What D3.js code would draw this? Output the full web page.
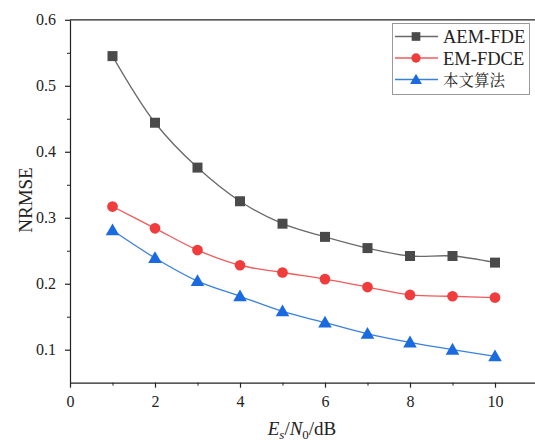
<!DOCTYPE html>
<html><head><meta charset="utf-8">
<script src="https://cdn.jsdelivr.net/npm/d3@7"></script>
<style>body{margin:0;background:#fff}svg{display:block}</style>
</head><body>
<script>
const snr = [1,2,3,4,5,6,7,8,9,10];
const aemFde = [0.545,0.444,0.376,0.325,0.291,0.271,0.254,0.242,0.242,0.232];
const emFdce = [0.317,0.284,0.251,0.228,0.217,0.207,0.195,0.183,0.181,0.179];
const ours   = [0.281,0.239,0.204,0.181,0.158,0.141,0.124,0.111,0.100,0.090];
const seriesNames = ["AEM-FDE","EM-FDCE","本文算法"];
const xTicks = [0,2,4,6,8,10];
const yTicks = [0.1,0.2,0.3,0.4,0.5,0.6];

const W=535,H=444;
const svg=d3.select("body").append("svg").attr("width",W).attr("height",H);
const x=d3.scaleLinear().domain([0,11]).range([70,537.5]);
const y=d3.scaleLinear().domain([0.05,0.6]).range([382.7,19.8]);
const serif='"Liberation Serif","Times New Roman",serif';

// frame top
svg.append("line").attr("x1",70).attr("x2",W).attr("y1",y(0.6)).attr("y2",y(0.6)).attr("stroke","#222").attr("stroke-width",1.2);

// y axis
const ya=svg.append("g").attr("transform","translate(70,0)")
  .call(d3.axisLeft(y).tickValues(yTicks).tickFormat(d3.format(".1f")).tickSize(5).tickSizeOuter(0));
ya.select(".domain").attr("stroke","#222").attr("stroke-width",1.2);
ya.selectAll(".tick line").attr("stroke","#222").attr("stroke-width",1.2);
ya.selectAll(".tick text").attr("font-family",serif).attr("font-size",16).attr("fill","#222").attr("x",-14);
svg.append("g").attr("transform","translate(70,0)")
  .call(d3.axisLeft(y).tickValues([0.15,0.25,0.35,0.45,0.55]).tickSize(3).tickFormat(""))
  .call(g=>{g.select(".domain").remove();g.selectAll("line").attr("stroke","#222");});

// x axis
const xa=svg.append("g").attr("transform",`translate(0,${y(0.05)})`)
  .call(d3.axisBottom(x).tickValues(xTicks).tickSize(5).tickSizeOuter(0));
xa.select(".domain").attr("stroke","#222").attr("stroke-width",1.2);
xa.selectAll(".tick line").attr("stroke","#222").attr("stroke-width",1.2);
xa.selectAll(".tick text").attr("font-family",serif).attr("font-size",16).attr("fill","#222").attr("dy","1em");
svg.append("g").attr("transform",`translate(0,${y(0.05)})`)
  .call(d3.axisBottom(x).tickValues([1,3,5,7,9]).tickSize(3).tickFormat(""))
  .call(g=>{g.select(".domain").remove();g.selectAll("line").attr("stroke","#222");});

// axis titles
svg.append("text").attr("transform","translate(32,200) rotate(-90)").attr("text-anchor","middle")
  .attr("font-family",serif).attr("font-size",19).attr("fill","#222").text("NRMSE");
const xt=svg.append("text").attr("x",302).attr("y",435).attr("text-anchor","middle")
  .attr("font-family",serif).attr("font-size",19).attr("fill","#222");
xt.append("tspan").attr("font-style","italic").text("E");
xt.append("tspan").attr("font-style","italic").attr("font-size",13).attr("dy",4).text("s");
xt.append("tspan").attr("dy",-4).text("/");
xt.append("tspan").attr("font-style","italic").text("N");
xt.append("tspan").attr("font-size",13).attr("dy",4).text("0");
xt.append("tspan").attr("dy",-4).text("/dB");

const series=[
  {name:seriesNames[0],vals:aemFde,line:"#6a6a6a",fill:"#4a4a4a",sym:d3.symbolSquare,size:100},
  {name:seriesNames[1],vals:emFdce,line:"#f05a5a",fill:"#f03c3c",sym:d3.symbolCircle,size:90},
  {name:seriesNames[2],vals:ours,line:"#3a80e0",fill:"#1a6be0",sym:d3.symbolTriangle,size:80}
];
const line=d3.line().x(d=>x(d[0])).y(d=>y(d[1])).curve(d3.curveCatmullRom.alpha(0.5));
series.forEach(s=>{
  const pts=snr.map((v,i)=>[v,s.vals[i]]);
  svg.append("path").datum(pts).attr("d",line).attr("fill","none").attr("stroke",s.line).attr("stroke-width",1.3);
  svg.selectAll(null).data(pts).enter().append("path")
    .attr("d",d3.symbol().type(s.sym).size(s.size))
    .attr("transform",d=>`translate(${x(d[0])},${y(d[1])+(s.sym===d3.symbolTriangle?1:0)})`)
    .attr("fill",s.fill);
});

// legend
const lg=svg.append("g");
lg.append("rect").attr("x",392.5).attr("y",23.5).attr("width",137).attr("height",71).attr("fill","#fff").attr("stroke","#999").attr("stroke-width",1);
series.forEach((s,i)=>{
  const yy=36.5+i*21.5;
  lg.append("line").attr("x1",395).attr("x2",438).attr("y1",yy).attr("y2",yy).attr("stroke",s.line).attr("stroke-width",1.3);
  lg.append("path").attr("d",d3.symbol().type(s.sym).size(s.size*0.75)).attr("transform",`translate(416,${yy+(i===2?1:0)})`).attr("fill",s.fill);
  lg.append("text").attr("x",443).attr("y",yy+(i===2?6:6.5)).attr("font-family",i===2?'"Noto Serif CJK SC","Noto Sans CJK SC",serif':serif)
    .attr("font-size",i===2?15.5:18.5).attr("fill","#222").text(s.name);
});
</script>
</body></html>
